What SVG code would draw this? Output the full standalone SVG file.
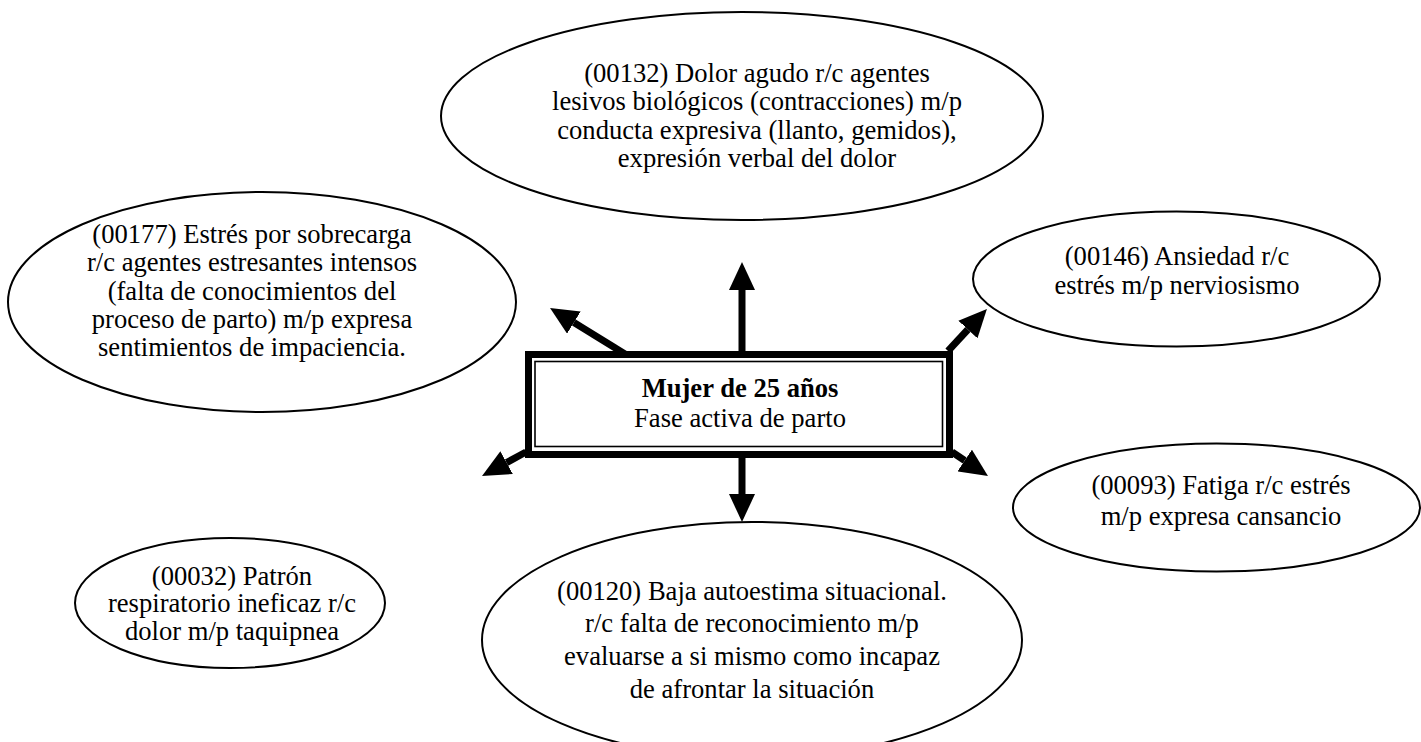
<svg xmlns="http://www.w3.org/2000/svg" width="1421" height="742" viewBox="0 0 1421 742">
  <style>
    .bubble { fill: #ffffff; stroke: #000000; stroke-width: 2; }
    .label { font-family: "Liberation Serif", "Times New Roman", serif; font-size: 26.6px; fill: #000000; text-anchor: middle; }
    .bold { font-weight: bold; }
    .shaft { stroke: #000000; stroke-width: 7; fill: none; marker-end: url(#head); }
  </style>
  <defs>
    <marker id="head" markerUnits="userSpaceOnUse" viewBox="0 -13 28 26" refX="0" refY="0" markerWidth="28" markerHeight="26" orient="auto">
      <path d="M0,-13 L28,0 L0,13 Z" fill="#000000"/>
    </marker>
  </defs>
  <rect width="1421" height="742" fill="#ffffff"/>

  <!-- connectors: thick arrows leaving the central box -->
  <g id="connectors">
    <path class="shaft" d="M742,351 L742,290"/>
    <path class="shaft" d="M742,458 L742,494"/>
    <path class="shaft" d="M625,354 L573.9,322.6"/>
    <path class="shaft" d="M948,351 L967.9,329.5"/>
    <path class="shaft" d="M526,452 L506.6,462.6"/>
    <path class="shaft" d="M952,452 L964.7,460.5"/>
  </g>

  <g id="n00132">
    <ellipse class="bubble" cx="742" cy="116" rx="301" ry="104"/>
    <text class="label" x="757" y="82">(00132) Dolor agudo r/c agentes</text>
    <text class="label" x="757" y="110.3">lesivos biológicos (contracciones) m/p</text>
    <text class="label" x="757" y="138.6">conducta expresiva (llanto, gemidos),</text>
    <text class="label" x="757" y="167">expresión verbal del dolor</text>
  </g>

  <g id="n00177">
    <ellipse class="bubble" cx="262" cy="302" rx="254" ry="110"/>
    <text class="label" x="252" y="243">(00177) Estrés por sobrecarga</text>
    <text class="label" x="252" y="271.3">r/c agentes estresantes intensos</text>
    <text class="label" x="252" y="299.6">(falta de conocimientos del</text>
    <text class="label" x="252" y="328">proceso de parto) m/p expresa</text>
    <text class="label" x="252" y="356.3">sentimientos de impaciencia.</text>
  </g>

  <g id="n00146">
    <ellipse class="bubble" cx="1176.5" cy="279" rx="203.5" ry="67.5"/>
    <text class="label" x="1177" y="264.5">(00146) Ansiedad r/c</text>
    <text class="label" x="1177" y="294">estrés m/p nerviosismo</text>
  </g>

  <g id="n00093">
    <ellipse class="bubble" cx="1216.5" cy="507.5" rx="203.5" ry="64"/>
    <text class="label" x="1221" y="494">(00093) Fatiga r/c estrés</text>
    <text class="label" x="1221" y="525">m/p expresa cansancio</text>
  </g>

  <g id="n00032">
    <ellipse class="bubble" cx="230" cy="603" rx="155" ry="65"/>
    <text class="label" x="232" y="585">(00032) Patrón</text>
    <text class="label" x="232" y="612">respiratorio ineficaz r/c</text>
    <text class="label" x="232" y="640">dolor m/p taquipnea</text>
  </g>

  <g id="n00120">
    <ellipse class="bubble" cx="752" cy="640" rx="270" ry="118"/>
    <text class="label" x="752" y="599.6">(00120) Baja autoestima situacional.</text>
    <text class="label" x="752" y="632.3">r/c falta de reconocimiento m/p</text>
    <text class="label" x="752" y="665">evaluarse a si mismo como incapaz</text>
    <text class="label" x="752" y="697.7">de afrontar la situación</text>
  </g>

  <!-- central patient box with double frame -->
  <g id="center">
    <rect x="528.5" y="354.5" width="421" height="100" fill="#ffffff" stroke="#000000" stroke-width="7"/>
    <rect x="535" y="361.5" width="407.5" height="85" fill="none" stroke="#000000" stroke-width="1.6"/>
    <text class="label bold" x="740" y="396.7">Mujer de 25 años</text>
    <text class="label" x="740" y="427.3">Fase activa de parto</text>
  </g>
</svg>
